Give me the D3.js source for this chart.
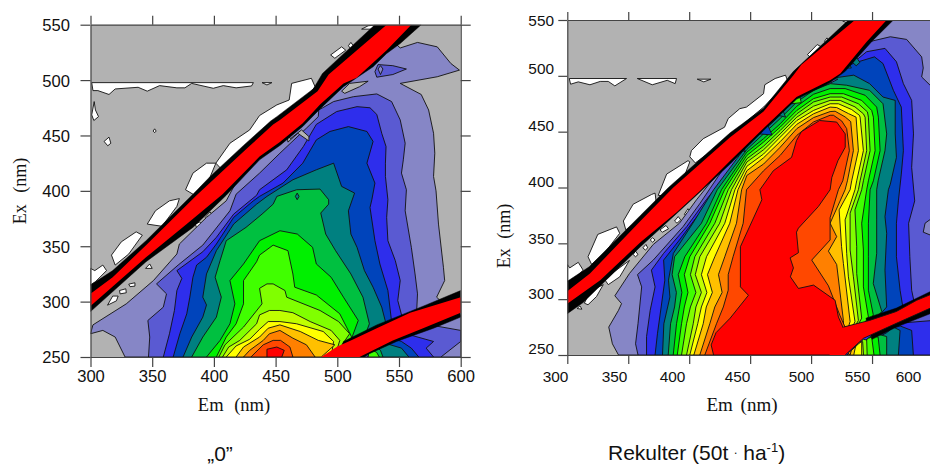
<!DOCTYPE html>
<html>
<head>
<meta charset="utf-8">
<script src="https://cdn.jsdelivr.net/npm/d3@7"></script>
<style>
  body { margin: 0; background: #fff; }
  svg { display: block; }
  .num { font-family: "Liberation Sans", Arial, sans-serif; fill: #111; }
  .lab { font-family: "Liberation Serif", "Times New Roman", serif; fill: #111; }
  .ttl { font-family: "Liberation Sans", Arial, sans-serif; fill: #111; }
</style>
</head>
<body>
<div id="chart"></div>
<script>
// contour level colours, lowest to highest
const levelColors = ['#8686c6', '#5a5ad2', '#2e2eec', '#0044bb', '#008080', '#00c040', '#00f000',
  '#40ff00', '#80ff00', '#c0ff00', '#ffff00', '#ffc000', '#ff8000', '#ff4800', '#ff0000']
const floorColor = '#b2b2b2'

const emTicks = [300, 350, 400, 450, 500, 550, 600]
const exTicks = [250, 300, 350, 400, 450, 500, 550]

// outlines, [em nm, ex nm], one list per contour level

// --- panel "0"
const zeroMain = [
  [[300,271],[310,274],[320,268],[328,250],[600,250],[600,288],[592,292],[580.5,304],[587,319],[586,331],[582,370],[580,400],[578,413],[579,434],[578,452],[574,473],[568,487],[551,497],[581,503],[599,509],[592,515],[581,530],[565,534],[551,529],[545,535],[491,494],[437,440],[420,412],[410,391],[394,376],[372,352],[370,343],[351,319],[329,298],[302,279]],
  [[347,250],[348,268],[346.5,283],[359,295],[361.6,307],[353.5,316],[371,333],[391,351],[413,382],[418,397],[437,416],[453.5,434],[475,456.6],[484.6,467],[485,473],[497,480.6],[513,485],[532,487.5],[544,480.6],[551,464],[555,443],[553.5,428],[552,416],[556,401],[555,382],[560,349],[563,325],[565,307],[564,284],[540,270],[505,250]],
  [[359,250],[364,271],[368,292],[370,310],[374,321],[370,328],[391,345],[402,358],[416,379],[434.6,396],[437,401],[459,419],[472.5,440],[483,460],[499.5,471.6],[516,476],[526.5,475],[532,469],[536,452],[539.5,440],[539,425],[539,413],[541,392],[540,376],[541,355],[547,337],[551,319],[549,301],[553,284],[540,270],[505,250]],
  [[367,250],[372.4,271],[378,289],[380.5,304],[383,322],[386,333],[394,340],[402,352],[416,376],[432,391],[437,395],[456,407],[472,425],[483,446],[494,453.6],[509,458],[524,453.6],[529,444.6],[524,425],[530.5,407],[528,392],[526.5,385],[530.5,355],[534.5,334],[541,310],[544,282],[535,268],[505,250]],
  [[375,250],[382,268],[391,286],[394,297],[391,304],[394,325],[402,346],[416,370],[434.6,388],[443,395],[464,410],[483,419],[497,425],[503.5,404],[514,398],[509,382],[511,361],[516,349],[522,328],[529,313],[536,295],[539,282],[530,265],[505,250]],
  [[382,250],[391,268],[402,286],[406,304],[401,322],[405,337],[410,355],[426,367],[439,379],[448,388],[451,395],[467,401],[486,401.6],[493,392],[493,388],[486.6,380],[490.6,361],[498.6,346],[511,325],[520.8,304],[526,280],[520,262],[505,250]],
  [[394,250],[405,265],[413,280],[417,298],[413,319],[424,334],[437,355],[453.5,364],[467.6,361],[480,349],[483,334],[495,322],[505,304],[517,283],[512,268],[505,250]],
  [[402,250],[410,268],[418,280],[424,298],[424,319],[434.6,336],[437,342],[448,351],[460,346],[464,325],[465.5,313],[483,306],[502,289],[511.6,268],[505,250]],
  [[404,250],[409,261],[424,277],[439,298],[437,312],[443,316],[448,316],[457.6,310],[459,304],[486,292],[501,282],[510,271],[502,258],[500,250]],
  [[407,250],[412,259],[421,265],[434.6,280],[437,288],[445,292],[453.5,292],[464,290],[478,282],[495,274],[502,265],[498,250]],
  [[410,250],[418,260],[429,266],[437,275],[444,282],[453.5,282],[467,280],[488.6,273],[497,264],[495,250]],
  [[418,250],[424,259],[437,268],[444,276],[453.5,279],[470,273],[484.6,265],[498,261],[487,250]],
  [[424,250],[429,256],[440,265],[445,271],[453.5,274],[464,267],[475,261],[482,250]],
  [[430,250],[440,261],[448,265],[454,265],[461.6,259],[464,250]],
  [[443,250],[443,257],[451,259],[457,256],[455,250]]
]
// lower right corner, under the second order band: [level index, outline]
const zeroCorner = [
  [1, [[584,250],[600,264],[600,274],[575,279],[560,282],[530,282],[520,250]]],
  [2, [[578,250],[572,258],[578,264],[562,269],[550,273],[535,272],[525,250]]],
  [3, [[566,250],[560,258],[552,264],[540,269],[528,272],[525,250]]],
  [4, [[558,250],[552,258],[540,262],[530,270],[525,250]]],
  [5, [[537,250],[535,256],[528,262],[525,250]]],
  [7, [[534,250],[532,254],[526,258],[525,250]]]
]
const zeroWhite = [
  [[301,497.7],[432,497.7],[430.5,494.7],[418,493],[407.6,495],[399.5,492.6],[382,497],[376.5,493],[370,493],[356,495],[346,490],[338.6,493.5],[320,492],[315,487],[306,490.5],[302,490.5]],
  [[439,497.7],[447,497.7],[443,495.6]],
  [[303,480.6],[304,473],[306.5,467],[302.7,463.5],[301,468.6]],
  [[315,448.5],[316.5,443],[314,440.7],[311,444.6]],
  [[352,456],[353.2,454],[352,452.5],[350.8,454]],
  [[401.6,425],[413,443],[429,455],[437,468],[451,477.6],[461,482],[463,497],[479,501.6],[482,494],[470,478],[456,464],[437,448],[425,436],[410,415]],
  [[377,401],[383,416],[394,425],[401.6,425],[396,410],[386,395]],
  [[346,370],[352.6,382],[364,391],[372,393],[370,386],[358,368]],
  [[317,342],[325,354],[337,363],[342,360],[331,343],[320,333]],
  [[300,330],[303.5,328],[310,333],[313,328],[304,318],[300,315]],
  [[313.8,296.8],[318,305],[322.4,305],[321,300.7]],
  [[323.5,310],[328.6,311.6],[329,308],[324,307]],
  [[331,315.8],[336,317],[336,314],[332,313.5]],
  [[344.6,330],[348,334],[350,330]],
  [[385,370],[388.6,372],[391,368],[386,366.5]],
  [[393,376],[397,381],[399,377],[395,373]],
  [[494.6,522.7],[503.5,530],[506.8,527],[498,519.7]],
  [[509,531],[511,534],[513,531],[511,528]],
  [[519.7,546],[525,549],[530.5,549.7],[528,546]],
  [[514,496],[522,498.5],[516,494]]
]
// small cells left around the band: [level index or -1 for floor, outline]
const zeroCells = [
  [-1, [[503.5,490],[510,497],[525,499],[518,494],[506,488]]],
  [1, [[530.5,507.6],[533,514],[545,513],[556,510],[545,505],[532,502.6]]],
  [0, [[533,510],[535,513],[537,510],[535,505]]],
  [-1, [[466,460],[468,464],[471,461]]],
  [-1, [[459,453],[462,447],[471,455],[477,449],[477,445],[468,452],[460,444]]],
  [4, [[466,395],[467.5,398],[469,395],[467.5,392]]]
]
const zeroBlack = [
  [[300,315],[318,328],[345,355],[384,398],[397,413],[424,441],[446,463],[451,467],[480.5,492],[488,506],[530.5,550],[568,550],[551,533],[540,524],[529,512],[505,494],[486,474],[472,458],[453.5,441],[437,428],[410,396],[383,367],[345,336],[300,291]],
  [[505,264],[532,279],[572,297],[600,310],[600,286],[578,276],[548,264],[526,253],[522,250],[500,250]]
]
const zeroRed = [
  [[300,307],[318,322],[345,351],[386,396],[399.5,410],[426.5,438],[448,460],[453.5,464],[484,490],[493,505],[540,550],[560,550],[540,527],[515.7,502],[505,497],[486,478],[472,461],[453.5,444],[437,431],[407,397],[378,370],[345,340],[300,296]],
  [[487,250],[500,259.5],[511,265],[532,276],[559,290],[600,304],[600,290],[572,277],[545,265],[518,250]]
]

// --- panel Rekulter
const rekulterMain = [
  [[342,250],[337,260],[334,275],[342,290],[344.5,296],[339,303],[351,323],[370.5,349],[392,368],[406,389],[420,408],[437,430],[470,470],[500,500],[540,535],[567,552],[601,552],[601,250]],
  [[358,250],[356,260],[358,278],[361,311],[357.6,322],[370.5,335],[395,365],[409,386],[430,420],[448,437],[470,462],[500,492],[530,515],[545.6,530],[565,535],[578.4,532.6],[590.7,517],[592,507],[590.7,499],[601,488],[601,374],[593.5,368],[592,360],[601,356],[601,250]],
  [[365,250],[365,266.5],[368,290],[372,311],[369,326],[379,341],[398,365],[414,389],[440,425],[470,460],[500,490],[525,510],[537,514],[545.6,521.6],[560.6,524.6],[570,512.6],[575.7,493],[582.5,478],[584,448],[582.5,418],[585,388],[580,368],[581,338],[582.5,308],[585,295],[545,272],[527,250]],
  [[372,250],[374,269.5],[377,293],[380,317],[379,335],[392,353],[405,372],[420,392],[445,428],[470,458],[500,487],[520,505],[537,512],[552,517],[559,511],[567.5,487],[574,472],[575.7,433],[574,412],[571.6,388],[570,368],[570,338],[573,308],[575.7,290],[545,272],[527,250]],
  [[378.1,250],[379.2,278],[384.2,302],[383,317],[387,341],[403,368],[420,398],[447.3,437.7],[461,451],[474.6,464.7],[488.3,481],[502,489.5],[515.6,497.6],[535,500.6],[548,493],[559,481],[569,478],[569,448],[570,427],[565,403],[563.4,398],[560.6,374],[562,359],[560.6,326],[562,293],[545,272],[527,250]],
  [[382.8,250],[384.7,278],[388,293],[389.5,306],[386,322],[388,338],[410,368],[423,398],[447.3,434],[461,448],[474.6,461.7],[488.3,476.6],[502,487],[515.6,493],[529,491.6],[548,487],[559,475],[562,448],[560.6,433],[555,406],[553.8,398],[553.8,371],[553.8,341],[551,314],[558,289],[545,272],[527,250]],
  [[386.9,250],[389.6,278],[392,293],[394,306],[391,322],[396.4,338],[414.2,368],[426.5,398],[447.3,431.7],[461,443.7],[474.6,457],[488.3,472.8],[502,483.5],[515.6,488.6],[527.9,488.6],[544.3,482.6],[553.8,472],[555.2,463],[556.6,433],[551.1,406],[548.4,398],[547,368],[547,338],[547,308],[551,286],[545,272],[527,250]],
  [[390.2,250],[393.7,278],[396,293],[399,306],[396,322],[400.5,338],[416.9,368],[429,398],[447.3,428.7],[461,440.7],[474.6,454],[488.3,469],[502,479.6],[515.6,484],[526.5,484],[541.5,478],[549.7,469],[551.1,463],[552.5,433],[547,406],[545.6,398],[541.5,368],[542.9,344],[542.9,311],[547,284],[540,272],[527,250]],
  [[393.7,250],[397.8,278],[401,293],[405.5,306],[401,322],[404.6,338],[421,368],[432,398],[447.3,425.7],[461,437],[474.6,451],[488.3,466],[502,476.6],[515.6,481],[525.1,481],[538.8,475],[546.2,467.7],[547,463],[548.4,433],[542.9,406],[541.5,398],[536,380],[537.4,347],[537.4,323],[541.5,283],[535,270],[527,250]],
  [[397.8,250],[403.3,278],[405.5,293],[410,306],[405,322],[408.7,338],[425,368],[434.7,398],[447.3,422.8],[461,433.8],[474.6,448],[488.3,463],[502,472.8],[515.6,478],[523.8,478],[536,472.2],[542.9,466],[544.3,463],[545.6,433],[540.2,406],[538.8,398],[532,377],[532,344],[534.7,320],[538.8,281],[532,268],[527,250]],
  [[400.5,250],[407,278],[410,293],[414.5,306],[410,322],[414.2,338],[429.2,368],[437.5,398],[447.3,419],[461,430],[474.6,445],[488.3,460],[502,469],[515.6,475],[522.4,475],[533.3,469.8],[539.6,464.7],[540.2,463],[542.9,433],[537.4,406],[536,398],[527.9,371],[529.2,341],[530.6,320],[536,280],[530,265],[527,250]],
  [[403.8,250],[411.5,278],[414,293],[419,306],[415,322],[421,338],[433.3,368],[440,398],[447.3,415],[461,426.6],[474.6,441],[488.3,456.6],[502,466],[515.6,472],[521,471.6],[530.6,466.2],[536.9,463],[538.8,433],[533.3,406],[532,398],[523,380],[525,347],[526.5,332],[532,280],[527,262],[527,250]],
  [[408.7,250],[416.9,278],[421,293],[427,306],[424,322],[429.2,338],[438.8,368],[443,398],[447.3,410.8],[461,421],[474.6,436],[488.3,452.7],[502,462.6],[515.6,468],[519.7,468.3],[527.9,463.2],[532.5,459],[534.7,433],[529.8,406],[527.9,398],[515.6,368],[521,356],[514.2,343],[521,331],[526.5,281],[527,250]],
  [[412.8,250],[422.4,278],[428,293],[432,308],[432,322],[436,338],[444.3,368],[447,398],[461,415],[474.6,428.7],[488.3,446.7],[502,458.7],[515.6,464.7],[518.3,464.7],[525.1,459.6],[529.2,452.7],[531.4,433],[526,406],[522.4,398],[515.6,373],[515.6,353],[500.5,335],[514.2,312],[523.8,285],[527.9,275],[527,250]],
  [[420,250],[418,259],[422,270],[433.6,283],[448.6,303.5],[442,311],[442,347],[459.6,389],[458,398],[469,415],[484,427],[488,442],[492,450],[507,460],[521,458.6],[528,448],[528,436],[522,424],[517,409],[515.6,398],[506,383],[489.6,363.6],[488,360],[489.6,341.6],[482.8,337],[485.5,328],[483,320],[489.6,309.6],[502,312.6],[519.7,299],[522.4,284],[526.5,274],[535,277],[528,250]]
]
const rekulterCorner = [
  [2, [[525,250],[601,250],[601,281],[578,279],[570,283],[545,272]]],
  [3, [[583.9,250],[582.5,272],[573,276],[560,272],[530,250]]],
  [4, [[571.6,250],[573,272],[567.5,275],[562,270],[530,250]]],
  [5, [[562,250],[562,266.5],[553.8,269],[530,250]]],
  [6, [[556.6,250],[555,266],[549.7,267.5],[530,250]]],
  [7, [[551.6,250],[549.7,266],[547,265],[530,250]]],
  [8, [[546,250],[545.6,263.5],[542.9,264],[530,250]]],
  [9, [[543,250],[542.3,262],[540,262],[530,250]]],
  [10, [[541.5,250],[541.5,262],[538.8,260],[530,250]]],
  [11, [[535,250],[536.4,257.5],[533,254],[530,250]]],
  [12, [[532,250],[533,254],[530,252]]]
]
const rekulterWhite = [
  [[301.6,497.6],[348.6,497.6],[339,491],[333.6,495],[327,495],[318.6,492],[309,494.6],[302.7,492.5]],
  [[357.4,497.6],[389.6,497.6],[388.5,493],[382,496],[369.7,492]],
  [[406.6,497],[417.8,497],[412,494.6]],
  [[400.5,427.5],[401.8,433],[411.5,443.7],[429,454],[432,461.7],[441.5,470.6],[447,472],[461,484],[462,492],[470.5,497.6],[479,500.6],[481,494.7],[461,472],[450,462],[433.6,447],[420,434],[405,422]],
  [[374.6,393],[381.5,412],[399,424],[400.5,423],[396,410],[383,392]],
  [[346,370],[354,385],[369,393.7],[372,395],[373,386],[361,373],[348,362]],
  [[317,338],[325,358],[340.4,364.7],[343,359],[331,342],[320,331]],
  [[300,316],[300,331],[302,328],[309,333],[313,326],[304,316]],
  [[314,296.4],[318.6,307],[329.5,313],[324,302.4],[317,295]],
  [[331,317],[339,325],[351,334.7],[343,320],[333.6,313]],
  [[308,291.6],[310.4,294],[312,291]],
  [[354,340],[356,343],[358,340],[356,338]],
  [[362,346],[364.5,349],[366,346],[364,344]],
  [[368,353],[370,355],[372,353],[370,351]],
  [[376,362],[381,366],[383,363],[378,360]],
  [[388,370],[391,374],[393,371],[390,368]],
  [[396,376],[399,381],[402,377],[399,374]],
  [[497,519],[505,528],[510,525],[500,516]],
  [[511,531],[513,534],[515,531],[513,528]],
  [[526,549],[531,552],[537,552],[531,547]]
]
const rekulterCells = [
  [1, [[503,488.6],[510,498],[522,497],[515,493]]],
  [2, [[438,436],[443,443],[446,432]]],
  [3, [[458,448],[464,457],[468,447]]],
  [4, [[472,465],[476,472],[479,463]]],
  [7, [[484,475],[490,484],[492,476]]],
  [1, [[493,510],[500,518],[503,513]]],
  [4, [[528,507],[531,512],[533,507]]],
  [4, [[534,512],[537,517],[540,512],[537,509]]]
]
const rekulterBlack = [
  [[300,316],[318,329],[360,375],[383,400],[433.6,449],[461,471],[485.5,504],[530.6,550],[567.5,550],[550,531],[528,504],[515.6,494],[488,479],[461,451],[433.6,421],[406,393],[360,347],[313,297],[300,287]],
  [[545,283],[570,292],[600,308],[600,288],[570,275],[550,264]]
]
const rekulterRed = [
  [[300,307],[318.6,323],[360,370],[387,400],[433.6,445],[461,468],[485.5,500.6],[492,510],[536,550],[562,550],[545.6,530.5],[524,502],[515.6,496],[488,481],[461,453],[433.6,424],[409,397],[390,378],[360,351],[327,317],[300,296]],
  [[526.5,275],[548,281],[570,289],[586.6,299],[600,305],[600,293],[570,278.4],[543,265],[528,250],[515,250]]
]
// contour lines running on from the big red area along the second order band
const rekulterBandEdges = [
  [[526.5,275],[548,281],[570,289],[586.6,299],[600,305]],
  [[528,250],[543,265],[570,278.4],[600,293]]
]

const svg = d3.select('#chart').append('svg').attr('width', 930).attr('height', 465)
const defs = svg.append('defs')

function drawPanel({ id, x, y, main, corner, white, cells, black, red, bandEdges = [], yLabelEnd, xLabelPos, yLabelPos, fontSize, tickLen }) {
  const g = svg.append('g')
  defs.append('clipPath').attr('id', id)
    .append('rect')
    .attr('x', x(300)).attr('y', y(550))
    .attr('width', x(600) - x(300)).attr('height', y(250) - y(550))

  const plot = g.append('g').attr('clip-path', `url(#${id})`)
  const line = d3.line().x(d => x(d[0])).y(d => y(d[1]))
  const ring = pts => line(pts) + 'Z'
  const contour = (pts, fill) => plot.append('path')
    .attr('d', ring(pts))
    .attr('fill', fill)
    .attr('stroke', '#111')
    .attr('stroke-width', 0.9)
    .attr('stroke-linejoin', 'round')

  plot.append('rect')
    .attr('x', x(300)).attr('y', y(550))
    .attr('width', x(600) - x(300)).attr('height', y(250) - y(550))
    .attr('fill', floorColor)

  white.forEach(w => contour(w, '#fff'))

  main.forEach((pts, level) => {
    contour(pts, levelColors[level])
    corner.filter(c => c[0] === level).forEach(c => contour(c[1], levelColors[level]))
  })
  cells.forEach(c => contour(c[1], c[0] < 0 ? floorColor : levelColors[c[0]]))

  black.forEach(b => plot.append('path').attr('d', ring(b)).attr('fill', '#000').attr('stroke', '#000').attr('stroke-width', 0.5))
  red.forEach(r => plot.append('path').attr('d', ring(r)).attr('fill', '#ff0000'))
  bandEdges.forEach(e => plot.append('path').attr('d', line(e)).attr('fill', 'none').attr('stroke', '#111').attr('stroke-width', 0.9))

  // frame and ticks, axis labels are moved afterwards to where the picture has them
  const axisColor = '#444'
  const style = sel => {
    sel.selectAll('path').attr('stroke', axisColor).attr('stroke-width', 1.2)
    sel.selectAll('line').attr('stroke', axisColor).attr('stroke-width', 1.2)
  }
  const bottom = g.append('g').attr('transform', `translate(0,${y(250)})`)
    .call(d3.axisBottom(x).tickValues(emTicks).tickSize(tickLen).tickSizeOuter(0).tickFormat(d3.format('d')))
    .call(style)
  const left = g.append('g').attr('transform', `translate(${x(300)},0)`)
    .call(d3.axisLeft(y).tickValues(exTicks).tickSize(tickLen).tickSizeOuter(0).tickFormat(d3.format('d')))
    .call(style)
  g.append('g').attr('transform', `translate(0,${y(550)})`)
    .call(d3.axisTop(x).tickValues(emTicks).tickSize(tickLen - 1).tickSizeOuter(0).tickFormat(''))
    .call(style)
  g.append('g').attr('transform', `translate(${x(600)},0)`)
    .call(d3.axisRight(y).tickValues(exTicks).tickSize(tickLen).tickSizeOuter(0).tickFormat(''))
    .call(style)

  bottom.selectAll('text').attr('class', 'num')
    .attr('font-size', fontSize).attr('font-family', null)
    .attr('x', (d, i) => xLabelPos ? xLabelPos[i] - x(d) : 0)
    .attr('y', 0).attr('dy', null)
    .attr('transform', `translate(0,${378 - y(250) + 4})`)
  left.selectAll('text').attr('class', 'num')
    .attr('font-size', fontSize).attr('font-family', null)
    .attr('x', yLabelEnd - x(300))
    .attr('y', (d, i) => (yLabelPos ? yLabelPos[i] : y(d)) - y(d))
    .attr('dy', '0.36em')
}

const xLeft = d3.scaleLinear().domain([300, 600]).range([90.5, 460.7])
const yLeft = d3.scaleLinear().domain([250, 550]).range([357, 24.7])
const xRight = d3.scaleLinear().domain([300, 600]).range([567.3, 933])
const yRight = d3.scaleLinear().domain([250, 550]).range([355, 20])

drawPanel({ id: 'panelZero', x: xLeft, y: yLeft, main: zeroMain, corner: zeroCorner, white: zeroWhite,
  cells: zeroCells, black: zeroBlack, red: zeroRed, yLabelEnd: 70, fontSize: 16.6, tickLen: 10 })
drawPanel({ id: 'panelRekulter', x: xRight, y: yRight, main: rekulterMain, corner: rekulterCorner, white: rekulterWhite,
  cells: rekulterCells, black: rekulterBlack, red: rekulterRed, bandEdges: rekulterBandEdges, yLabelEnd: 554,
  xLabelPos: [555, 614, 672, 737, 801, 857, 908], yLabelPos: [348, 293, 238, 181, 125, 68, 20], fontSize: 15.4, tickLen: 9 })

// axis titles
svg.append('text').attr('class', 'lab').attr('x', 234).attr('y', 411).attr('text-anchor', 'middle')
  .attr('font-size', 18.5).attr('word-spacing', 6).text('Em (nm)')
svg.append('text').attr('class', 'lab').attr('x', 742).attr('y', 411).attr('text-anchor', 'middle')
  .attr('font-size', 19).attr('word-spacing', 3).text('Em (nm)')
svg.append('text').attr('class', 'lab').attr('font-size', 18).attr('word-spacing', 7).attr('text-anchor', 'middle')
  .attr('transform', 'translate(26,191) rotate(-90)').text('Ex (nm)')
svg.append('text').attr('class', 'lab').attr('font-size', 18).attr('word-spacing', 5).attr('text-anchor', 'middle')
  .attr('transform', 'translate(510,236) rotate(-90)').text('Ex (nm)')

// panel names
svg.append('text').attr('class', 'ttl').attr('x', 220).attr('y', 461).attr('text-anchor', 'middle')
  .attr('font-size', 21).text('„0”')
const t = svg.append('text').attr('class', 'ttl').attr('x', 608).attr('y', 460).attr('font-size', 21)
t.append('tspan').text('Rekulter (50t ')
t.append('tspan').attr('font-size', 12).attr('dy', -6).text('.')
t.append('tspan').attr('dy', 6).text(' ha')
t.append('tspan').attr('font-size', 13).attr('dy', -8).text('-1')
t.append('tspan').attr('dy', 8).text(')')
</script>
</body>
</html>
